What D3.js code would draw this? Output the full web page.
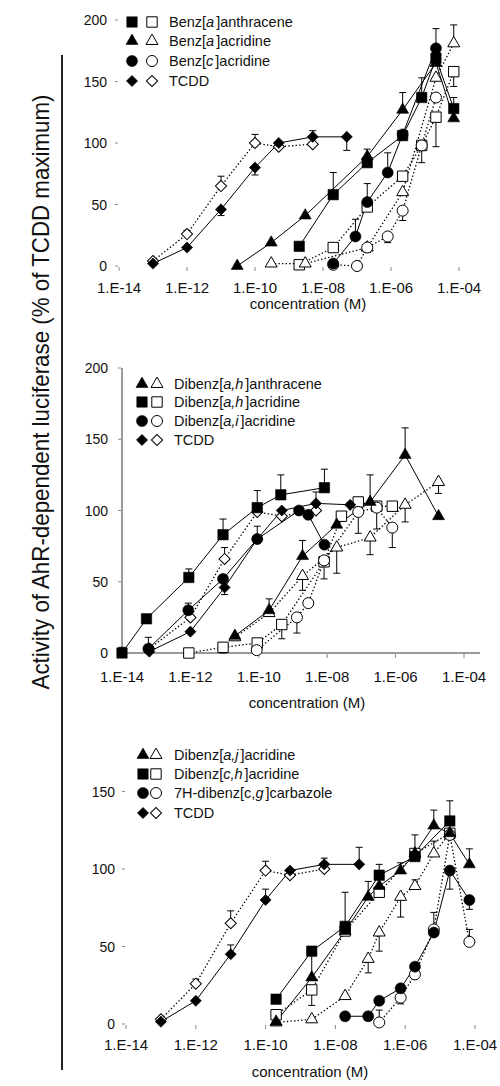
<!DOCTYPE html>
<html>
<head>
<meta charset="utf-8">
<script src="https://cdn.jsdelivr.net/npm/d3@7"></script>
<style>
  body { margin: 0; background: #fff; }
  svg { display: block; font-family: Arial, "Liberation Sans", Helvetica, sans-serif; }
</style>
</head>
<body>
<svg id="chart" width="500" height="1086"></svg>
<script>
// ---------- shared axis values ----------
const xTickConc = [1e-14, 1e-12, 1e-10, 1e-8, 1e-6, 1e-4];
const yTicks200 = [0, 50, 100, 150, 200];
const yTicks150 = [0, 50, 100, 150];
const yTitle = "Activity of AhR-dependent luciferase (% of TCDD maximum)";
const xTitle = "concentration (M)";

// ---------- panel 1 ----------
const p1Names = ["Benz[*a*]anthracene", "Benz[*a*]acridine", "Benz[*c*]acridine", "TCDD"];
const p1Shapes = ["square", "triangle", "circle", "diamond"];

const baaConc = [2e-9, 2e-8, 2e-7, 2.2e-6, 8e-6, 2.1e-5, 7e-5];
const baaFilled = [16, 58, 84, 106, 137, 169, 128];
const baaFilledErr = [0, 18, 0, 0, 16, 0, 9];
const baaOpen = [1, 15, 48, 73, 98, 121, 158];
const baaOpenErr = [0, 0, 0, 0, 0, -24, -12];

const bacrConcFilled = [3e-11, 3e-10, 3e-9, 2e-7, 2.2e-6, 2.1e-5, 7e-5];
const bacrFilled = [0, 19, 41, 89, 127, 165, 120];
const bacrFilledErr = [0, 0, 0, 6, 14, 0, 0];
const bacrConcOpen = [3e-10, 3e-9, 2e-7, 2.2e-6, 2.1e-5, 7e-5];
const bacrOpen = [2, 2, 15, 60, 153, 181];
const bacrOpenErr = [0, 0, -4, 0, 0, 15];

const bccrConcFilled = [2e-8, 9e-8, 2e-7, 8e-7, 2.2e-6, 2.1e-5];
const bccrFilled = [2, 24, 52, 76, 107, 177];
const bccrFilledErr = [0, 14, 15, 16, 0, 16];
const bccrConcOpen = [2e-8, 1e-7, 2e-7, 8e-7, 2.2e-6, 8e-6, 2.1e-5];
const bccrOpen = [1, 0, 15, 24, 45, 98, 137];
const bccrOpenErr = [0, 0, -4, -5, -8, -14, 0];

const tcdd1ConcFilled = [1e-13, 1e-12, 1e-11, 1e-10, 5e-10, 5e-9, 5e-8];
const tcdd1Filled = [2, 15, 46, 80, 100, 105, 105];
const tcdd1FilledErr = [0, 0, -5, -6, 0, 5, -11];
const tcdd1ConcOpen = [1e-13, 1e-12, 1e-11, 1e-10, 5e-10, 5e-9];
const tcdd1Open = [4, 26, 65, 100, 97, 99];
const tcdd1OpenErr = [0, 3, 8, 7, 0, 0];

// ---------- panel 2 ----------
const p2Names = ["Dibenz[*a,h*]anthracene", "Dibenz[*a,h*]acridine", "Dibenz[*a,i*]acridine", "TCDD"];
const p2Shapes = ["triangle", "square", "circle", "diamond"];

const dbahaConc = [2e-11, 2e-10, 1.9e-9, 1.9e-8, 1.8e-7, 1.9e-6, 1.8e-5];
const dbahaFilled = [12, 30, 68, 90, 106, 139, 96];
const dbahaFilledErr = [0, 8, 11, 0, 19, 19, 0];
const dbahaOpen = [11, 28, 54, 74, 81, 104, 120];
const dbahaOpenErr = [0, 0, -10, -18, -12, -12, -8];

const dbahcrConcFilled = [1e-14, 5.2e-14, 9e-13, 9e-12, 9e-11, 4.4e-10, 8.3e-9];
const dbahcrFilled = [0, 24, 53, 83, 102, 111, 116];
const dbahcrFilledErr = [4, 0, 6, 11, 12, 14, 13];
const dbahcrConcOpen = [9e-13, 9e-12, 9e-11, 4.7e-10, 8.1e-9, 2.6e-8, 8.1e-8, 2.8e-7, 8e-7];
const dbahcrOpen = [0, 4, 7, 20, 64, 96, 106, 103, 103];
const dbahcrOpenErr = [0, -4, 0, -10, -12, 0, 0, 0, 0];

const dbaicrConcFilled = [5.9e-14, 8.7e-13, 9e-12, 9e-11, 1.5e-9, 2.8e-9, 8.3e-9];
const dbaicrFilled = [3, 30, 52, 80, 100, 97, 76];
const dbaicrFilledErr = [8, 5, 0, 9, 0, 0, 0];
const dbaicrConcOpen = [8.7e-11, 1.3e-9, 2.8e-9, 8.1e-9, 8.1e-8, 2.8e-7, 8e-7];
const dbaicrOpen = [2, 25, 35, 65, 99, 102, 88];
const dbaicrOpenErr = [0, -11, 0, 0, -15, -15, -14];

const tcdd2ConcFilled = [6.3e-14, 1e-12, 1e-11, 9e-11, 4.7e-10, 4.7e-9, 4.7e-8];
const tcdd2Filled = [1, 15, 46, 80, 100, 105, 104];
const tcdd2FilledErr = [0, 0, -5, 0, 0, 8, 0];
const tcdd2ConcOpen = [6.3e-14, 1e-12, 1e-11, 9e-11, 4.7e-10, 4.7e-9];
const tcdd2Open = [3, 25, 66, 99, 96, 100];
const tcdd2OpenErr = [0, 0, 8, 0, 0, 0];

// ---------- panel 3 ----------
const p3Names = ["Dibenz[*a,j*]acridine", "Dibenz[*c,h*]acridine", "7H-dibenz[c,*g*]carbazole", "TCDD"];
const p3Shapes = ["triangle", "square", "circle", "diamond"];

const dbajConc = [2e-10, 2.1e-9, 1.9e-8, 8.7e-8, 1.8e-7, 7.4e-7, 1.9e-6, 6.6e-6, 1.9e-5, 6.9e-5];
const dbajFilled = [1.5, 30, 60, 82, 89, 99, 110, 128, 123, 103];
const dbajFilledErr = [0, 0, 0, 10, 0, 5, 0, 10, 0, 10];
const dbajConcOpen = [2e-10, 2.1e-9, 1.9e-8, 8.7e-8, 1.8e-7, 7.4e-7, 1.9e-6, 6.6e-6, 1.9e-5];
const dbajOpen = [1, 3, 18, 42, 59, 82, 89, 110, 123];
const dbajOpenErr = [0, 0, 0, -9, -12, -13, 4, 8, 0];

const dbchConc = [2e-10, 2.1e-9, 1.9e-8, 1.8e-7, 1.9e-6, 1.9e-5];
const dbchFilled = [16, 47, 63, 96, 108, 131];
const dbchFilledErr = [0, -17, 22, 7, 14, 13];
const dbchOpen = [6, 22, 60, 85, 110, 123];
const dbchOpenErr = [0, -10, 0, 0, 0, 0];

const dbcgConcFilled = [1.9e-8, 8.7e-8, 1.8e-7, 7.4e-7, 1.9e-6, 6.6e-6, 1.9e-5, 6.9e-5];
const dbcgFilled = [5, 5, 15, 23, 37, 59, 99, 80];
const dbcgFilledErr = [0, 0, 0, 0, 0, 13, -12, -6];
const dbcgConcOpen = [1.8e-7, 7.4e-7, 1.9e-6, 6.6e-6, 1.9e-5, 6.9e-5];
const dbcgOpen = [1, 17, 32, 61, 122, 53];
const dbcgOpenErr = [8, -4, 0, 0, 0, 8];

const tcdd3ConcFilled = [1e-13, 1e-12, 1e-11, 1e-10, 5e-10, 4.8e-9, 4.8e-8];
const tcdd3Filled = [1.5, 15, 45, 80, 99, 103, 103];
const tcdd3FilledErr = [0, 0, 6, 7, 0, 4, 11];
const tcdd3ConcOpen = [1e-13, 1e-12, 1e-11, 1e-10, 5e-10, 4.8e-9];
const tcdd3Open = [3, 26, 65, 99, 96, 100];
const tcdd3OpenErr = [0, 3, 8, 6, 0, 0];

// ---------- series tables ----------
function series(shape, open, conc, vals, errs) {
  return { shape, open, pts: conc.map((c, i) => ({ c, v: vals[i], e: errs[i] })) };
}

const panels = [
  {
    xRange: [119, 459], yRange: [266, 20], yMax: 200, yTicks: yTicks200,
    axisLines: false, yLabelX: 107, tickLen: 4,
    names: p1Names, shapes: p1Shapes,
    legend: { fx: 132, ox: 152, tx: 169, rows: [22, 41, 61, 81] },
    xLabelY: 293, titleY: 309, titleX: 308,
    series: [
      series("square", true, baaConc, baaOpen, baaOpenErr),
      series("triangle", true, bacrConcOpen, bacrOpen, bacrOpenErr),
      series("circle", true, bccrConcOpen, bccrOpen, bccrOpenErr),
      series("diamond", true, tcdd1ConcOpen, tcdd1Open, tcdd1OpenErr),
      series("square", false, baaConc, baaFilled, baaFilledErr),
      series("triangle", false, bacrConcFilled, bacrFilled, bacrFilledErr),
      series("circle", false, bccrConcFilled, bccrFilled, bccrFilledErr),
      series("diamond", false, tcdd1ConcFilled, tcdd1Filled, tcdd1FilledErr)
    ]
  },
  {
    xRange: [122, 464], yRange: [653, 368], yMax: 200, yTicks: yTicks200,
    axisLines: true, yLabelX: 108, tickLen: 4,
    names: p2Names, shapes: p2Shapes,
    legend: { fx: 142, ox: 157, tx: 174, rows: [384, 402, 421, 440] },
    xLabelY: 682, titleY: 708, titleX: 307,
    series: [
      series("triangle", true, dbahaConc, dbahaOpen, dbahaOpenErr),
      series("square", true, dbahcrConcOpen, dbahcrOpen, dbahcrOpenErr),
      series("circle", true, dbaicrConcOpen, dbaicrOpen, dbaicrOpenErr),
      series("diamond", true, tcdd2ConcOpen, tcdd2Open, tcdd2OpenErr),
      series("triangle", false, dbahaConc, dbahaFilled, dbahaFilledErr),
      series("square", false, dbahcrConcFilled, dbahcrFilled, dbahcrFilledErr),
      series("circle", false, dbaicrConcFilled, dbaicrFilled, dbaicrFilledErr),
      series("diamond", false, tcdd2ConcFilled, tcdd2Filled, tcdd2FilledErr)
    ]
  },
  {
    xRange: [126, 475], yRange: [1024, 791.5], yMax: 150, yTicks: yTicks150,
    axisLines: false, yLabelX: 115, tickLen: 4,
    names: p3Names, shapes: p3Shapes,
    legend: { fx: 143, ox: 156, tx: 174, rows: [755, 774, 793, 813] },
    xLabelY: 1050, titleY: 1077, titleX: 310,
    series: [
      series("triangle", true, dbajConcOpen, dbajOpen, dbajOpenErr),
      series("square", true, dbchConc, dbchOpen, dbchOpenErr),
      series("circle", true, dbcgConcOpen, dbcgOpen, dbcgOpenErr),
      series("diamond", true, tcdd3ConcOpen, tcdd3Open, tcdd3OpenErr),
      series("triangle", false, dbajConc, dbajFilled, dbajFilledErr),
      series("square", false, dbchConc, dbchFilled, dbchFilledErr),
      series("circle", false, dbcgConcFilled, dbcgFilled, dbcgFilledErr),
      series("diamond", false, tcdd3ConcFilled, tcdd3Filled, tcdd3FilledErr)
    ]
  }
];

// ---------- drawing ----------
const svg = d3.select("#chart");
const symbolTypes = { square: d3.symbolSquare, circle: d3.symbolCircle, triangle: d3.symbolTriangle, diamond: d3.symbolSquare };
const symbolSizes = { square: 108, circle: 95, triangle: 62, diamond: 62 };

function marker(sel, shape, open, cx, cy) {
  sel.append("path")
    .attr("d", d3.symbol(symbolTypes[shape], symbolSizes[shape])())
    .attr("transform", `translate(${cx},${cy})` + (shape === "diamond" ? " rotate(45)" : ""))
    .attr("fill", open ? "#fff" : "#000")
    .attr("stroke", "#000")
    .attr("stroke-width", open ? 1 : 0.6);
}

function richText(sel, label) {
  label.split("*").forEach((part, i) => {
    if (!part) return;
    const t = sel.append("tspan").text(part);
    if (i % 2 === 1) t.attr("font-style", "italic");
    else if (i > 0) t.attr("dx", 2);
  });
}

const expLabel = c => {
  const e = Math.round(Math.log10(c));
  return "1.E" + (e < 0 ? "-" : "+") + String(Math.abs(e)).padStart(2, "0");
};

panels.forEach(p => {
  const x = d3.scaleLog().domain([1e-14, 1e-4]).range(p.xRange);
  const y = d3.scaleLinear().domain([0, p.yMax]).range(p.yRange);
  const g = svg.append("g");
  const x0 = p.xRange[0], y0 = y(0);

  // axes
  if (p.axisLines) {
    g.append("line").attr("x1", x0).attr("x2", x0).attr("y1", y(p.yMax)).attr("y2", y0)
      .attr("stroke", "#9a9a9a").attr("stroke-width", 2);
    g.append("line").attr("x1", x0).attr("x2", 480).attr("y1", y0).attr("y2", y0)
      .attr("stroke", "#9a9a9a").attr("stroke-width", 2);
  }
  p.yTicks.forEach(t => {
    g.append("line").attr("x1", x0 - 4).attr("x2", x0 - 1).attr("y1", y(t)).attr("y2", y(t))
      .attr("stroke", "#8a8a8a").attr("stroke-width", 1);
    g.append("text").attr("x", p.yLabelX).attr("y", y(t)).attr("dy", "0.36em")
      .attr("text-anchor", "end").attr("font-size", 14).attr("fill", "#111").text(t);
  });
  xTickConc.forEach(c => {
    g.append("line").attr("x1", x(c)).attr("x2", x(c)).attr("y1", y0 + 1).attr("y2", y0 + 1 + p.tickLen)
      .attr("stroke", "#8a8a8a").attr("stroke-width", 1);
    g.append("text").attr("x", x(c)).attr("y", p.xLabelY).attr("text-anchor", "middle")
      .attr("font-size", 15).attr("fill", "#111").text(expLabel(c));
  });
  g.append("text").attr("x", p.titleX).attr("y", p.titleY).attr("text-anchor", "middle")
    .attr("font-size", 15).attr("fill", "#111").text(xTitle);

  // connecting lines
  const line = d3.line().x(d => x(d.c)).y(d => y(d.v));
  p.series.forEach(s => {
    g.append("path").attr("d", line(s.pts)).attr("fill", "none").attr("stroke", "#000")
      .attr("stroke-width", s.open ? 1.3 : 1)
      .attr("stroke-dasharray", s.open ? "1.4,2.2" : null);
  });

  // error bars
  p.series.forEach(s => {
    s.pts.filter(d => d.e).forEach(d => {
      const cx = x(d.c), ya = y(d.v), yb = y(d.v + d.e);
      g.append("line").attr("x1", cx).attr("x2", cx).attr("y1", ya).attr("y2", yb)
        .attr("stroke", "#000").attr("stroke-width", 1);
      g.append("line").attr("x1", cx - 3.5).attr("x2", cx + 3.5).attr("y1", yb).attr("y2", yb)
        .attr("stroke", "#000").attr("stroke-width", 1);
    });
  });

  // markers
  p.series.forEach(s => {
    s.pts.forEach(d => marker(g, s.shape, s.open, x(d.c), y(d.v)));
  });

  // legend
  p.names.forEach((name, i) => {
    const ry = p.legend.rows[i];
    marker(g, p.shapes[i], false, p.legend.fx, ry);
    marker(g, p.shapes[i], true, p.legend.ox, ry);
    const t = g.append("text").attr("x", p.legend.tx).attr("y", ry).attr("dy", "0.36em")
      .attr("font-size", 14.5).attr("fill", "#111");
    richText(t, name);
  });
});

// shared y title and bracket line
svg.append("line").attr("x1", 62).attr("x2", 62).attr("y1", 55).attr("y2", 1070)
  .attr("stroke", "#222").attr("stroke-width", 2);
svg.append("text")
  .attr("transform", "translate(49,392) rotate(-90)")
  .attr("text-anchor", "middle")
  .attr("font-size", 24)
  .attr("fill", "#111")
  .attr("textLength", 595).attr("lengthAdjust", "spacingAndGlyphs")
  .text(yTitle);
</script>
</body>
</html>
